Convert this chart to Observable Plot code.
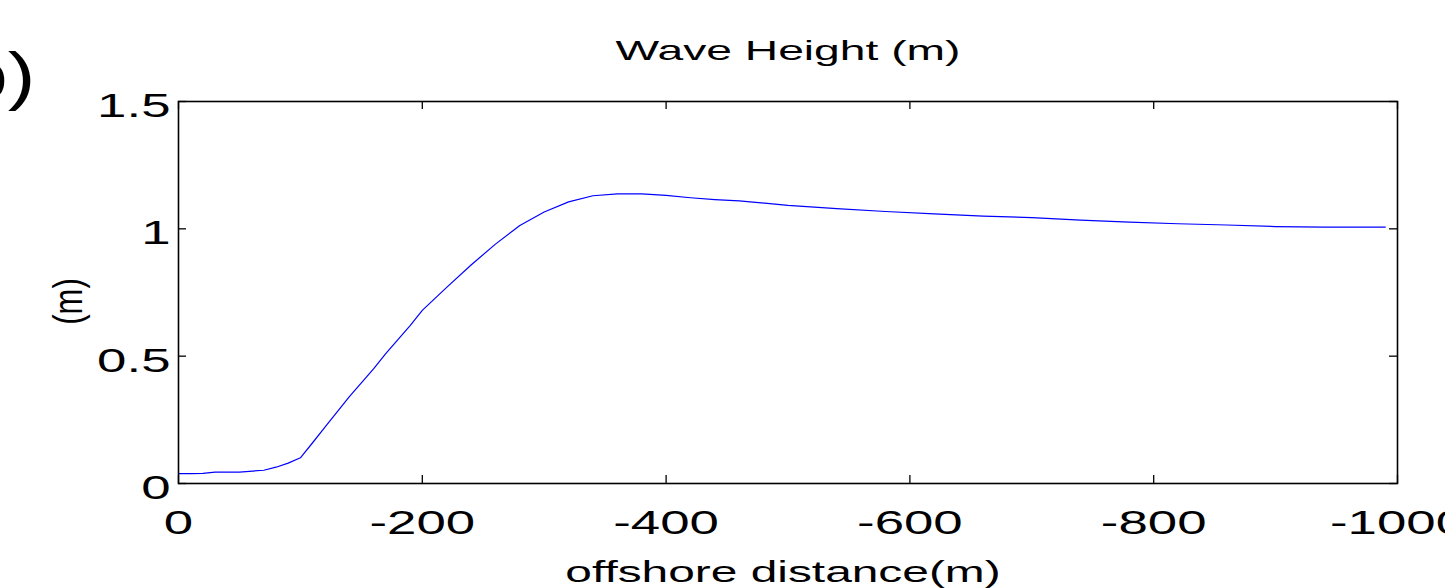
<!DOCTYPE html>
<html><head><meta charset="utf-8">
<script src="https://cdn.jsdelivr.net/npm/d3@7"></script>
<script src="https://cdn.jsdelivr.net/npm/@observablehq/plot@0.6"></script>
<style>
html,body{margin:0;padding:0;background:#fff;}
#chart{width:1445px;height:588px;overflow:hidden;position:relative;}
</style></head><body><div id="chart"></div>
<script>
const title = "Wave Height (m)";
const xLabel = "offshore distance(m)";
const yLabel = "(m)";
const panelLabel = "b)";
const distance = [0, -10, -20, -30, -50, -70, -80, -90, -100, -110, -120, -130, -140, -150, -160, -170, -180, -190, -200, -220, -240, -260, -280, -300, -320, -340, -360, -380, -400, -420, -440, -460, -500, -540, -580, -620, -660, -700, -740, -780, -820, -860, -900, -940, -990];
const waveHeight = [0.039, 0.039, 0.040, 0.045, 0.045, 0.052, 0.064, 0.080, 0.101, 0.160, 0.220, 0.280, 0.340, 0.395, 0.450, 0.510, 0.565, 0.620, 0.680, 0.770, 0.858, 0.940, 1.013, 1.066, 1.106, 1.130, 1.137, 1.137, 1.131, 1.122, 1.115, 1.110, 1.092, 1.079, 1.068, 1.059, 1.050, 1.044, 1.034, 1.026, 1.020, 1.015, 1.009, 1.007, 1.007];
const xTicks = [0, -200, -400, -600, -800, -1000];
const xTickLabels = ["0", "-200", "-400", "-600", "-800", "-1000"];
const yTicks = [0, 0.5, 1, 1.5];
const yTickLabels = ["0", "0.5", "1", "1.5"];

const rows = distance.map((d, i) => ({distance: d, height: waveHeight[i]}));

const W = 1445, H = 588, mL = 178, mR = 48, mT = 101, mB = 105;
const frameH = H - mT - mB, frameW = W - mL - mR, tickLen = 8;
const font = "'Liberation Sans', Arial, Helvetica, sans-serif";

const plot = Plot.plot({
  width: W, height: H,
  marginLeft: mL, marginRight: mR, marginTop: mT, marginBottom: mB,
  style: {fontFamily: font, background: "white", color: "black"},
  x: {domain: [0, -1000]},
  y: {domain: [0, 1.5]},
  marks: [
    Plot.line(rows, {x: "distance", y: "height", stroke: "#0000ff", strokeWidth: 1.2}),
    Plot.frame({stroke: "black", strokeWidth: 1.6}),
    Plot.tickX(xTicks, {x: d => d, insetTop: frameH - tickLen, stroke: "black", strokeWidth: 1.3}),
    Plot.tickX(xTicks, {x: d => d, insetBottom: frameH - tickLen, stroke: "black", strokeWidth: 1.3}),
    Plot.tickY(yTicks, {y: d => d, insetRight: frameW - tickLen, stroke: "black", strokeWidth: 1.3}),
    Plot.tickY(yTicks, {y: d => d, insetLeft: frameW - tickLen, stroke: "black", strokeWidth: 1.3}),
    Plot.axisX(xTicks, {anchor: "bottom", tickSize: 0, tickPadding: 27, fontSize: 33, label: null,
      tickFormat: d => xTickLabels[xTicks.indexOf(d)]}),
    Plot.axisY(yTicks, {anchor: "left", tickSize: 0, tickPadding: 8, dy: 5, fontSize: 33, label: null,
      tickFormat: d => yTickLabels[yTicks.indexOf(d)]}),
    Plot.text([title], {text: d => d, frameAnchor: "top", dy: -50, lineAnchor: "middle", fontSize: 28}),
    Plot.text([xLabel], {text: d => d, frameAnchor: "bottom", dx: -5, dy: 89, lineAnchor: "middle", fontSize: 29}),
    Plot.text([yLabel], {text: d => d, frameAnchor: "left", dx: -109, dy: 9, rotate: -90, textAnchor: "middle", lineAnchor: "middle", fontSize: 31}),
    Plot.text([panelLabel], {text: d => d, frameAnchor: "top-left", dx: -143, dy: -24, textAnchor: "end", lineAnchor: "middle", fontSize: 64})
  ]
});

document.getElementById("chart").appendChild(plot);
plot.style.overflow = "visible";

// The reference figure is stretched horizontally: widen glyphs accordingly.
d3.select(plot).selectAll("text").each(function() {
  if (this.textContent === yLabel) {
    const t = this.getAttribute("transform");
    if (t && t.includes("rotate(")) this.setAttribute("transform", t.replace("rotate(", "scale(1.3,1) rotate("));
    return;
  }
  const isTick = xTickLabels.includes(this.textContent) || yTickLabels.includes(this.textContent);
  const S = this.textContent === panelLabel ? 1.3 : isTick ? 1.6 : 1.65;
  const len = this.getComputedTextLength();
  this.setAttribute("textLength", len * S);
  this.setAttribute("lengthAdjust", "spacingAndGlyphs");
});
</script>
</body></html>
